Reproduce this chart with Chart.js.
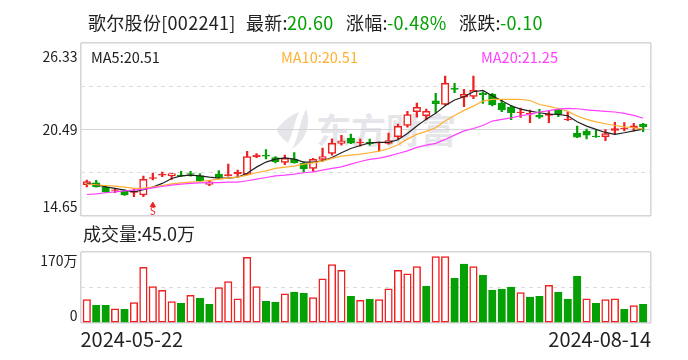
<!DOCTYPE html>
<html lang="zh">

<head>
  <meta charset="UTF-8">
  <title>歌尔股份</title>
  <script src="https://cdn.jsdelivr.net/npm/chart.js"></script>
  <style>
    body { margin: 0; background: #fff; width: 688px; height: 360px; overflow: hidden; font-family: "Noto Sans CJK SC", sans-serif; color: #222; }
    canvas { position: absolute; left: 0; top: 0; }
    span { position: absolute; white-space: nowrap; line-height: 20px; }
    .head { top: 12px; font-size: 18px; letter-spacing: 0.3px; }
    .ma { top: 47px; font-size: 14.5px; }
    .verde { color: #04a004; }
    #marca { top: 108px; left: 316px; font-size: 35px; font-weight: 700; color: #e6e6ea; line-height: 42px; letter-spacing: 0px; }
    #folha { position: absolute; left: 275px; top: 109px; }
  </style>
</head>

<body>
  <svg id="folha" width="40" height="42" viewBox="0 0 40 42">
    <path d="M31 0 C36 12 33 30 17 40 C24 28 24 14 31 0 Z M24 3 C19 14 18 24 13 34 C8 30 3 26 2 20 C8 12 16 6 24 3 Z" fill="#e6e6ea" />
  </svg>
  <span id="marca">东方财富</span>
  <canvas id="graficoPreco" width="688" height="360"></canvas>
  <canvas id="graficoVolume" width="688" height="360"></canvas>

  <span class="head" style="left:88px">歌尔股份[002241]</span>
  <span class="head" style="left:246px">最新:</span>
  <span class="head verde" style="left:287px">20.60</span>
  <span class="head" style="left:346px">涨幅:</span>
  <span class="head verde" style="left:387px">-0.48%</span>
  <span class="head" style="left:459px">涨跌:</span>
  <span class="head verde" style="left:500px">-0.10</span>
  <span class="ma" style="left:91px">MA5:20.51</span>
  <span class="ma" style="left:281px;color:#ffb030">MA10:20.51</span>
  <span class="ma" style="left:481px;color:#ff40ff">MA20:21.25</span>
  <span style="left:83px;top:223px;font-size:18px">成交量:45.0万</span>

<script>
  const precoTicks = [14.65, 17.57, 20.49, 23.41, 26.33];
  const precoLabels = ['14.65', '', '20.49', '', '26.33'];
  const volumeTicks = [0, 85, 170];
  const volumeLabels = ['0', '', '170万'];
  const datas = ['2024-05-22', '2024-08-14'];

  const abertura = [16.76, 16.89, 16.60, 16.37, 16.37, 16.24, 16.08, 17.18, 17.41, 17.36,
    17.41, 17.52, 17.36, 16.78, 17.48, 17.36, 17.50, 17.45, 18.65, 18.74,
    18.60, 18.27, 18.49, 18.20, 17.86, 18.47, 18.87, 19.55, 19.91, 19.59,
    19.62, 19.59, 19.55, 20.00, 20.76, 21.69, 21.42, 22.43, 22.18, 23.29,
    22.68, 22.72, 22.95, 22.86, 22.25, 22.00, 21.62, 21.53, 21.46, 21.44,
    21.85, 21.15, 20.25, 20.38, 20.04, 20.00, 20.43, 20.54, 20.61, 20.85];
  const fechamento = [16.98, 16.62, 16.26, 16.42, 16.08, 16.33, 17.12, 17.25, 17.48, 17.52,
    17.34, 17.45, 17.03, 16.96, 17.25, 17.45, 17.61, 18.67, 18.76, 18.69,
    18.31, 18.54, 18.24, 17.84, 18.47, 18.67, 19.55, 19.73, 19.57, 19.64,
    19.53, 19.64, 19.75, 20.70, 21.49, 21.98, 21.71, 22.23, 23.60, 23.20,
    22.86, 23.13, 22.84, 22.16, 21.82, 21.62, 21.67, 21.58, 21.33, 21.55,
    21.53, 21.19, 19.98, 20.11, 20.00, 20.22, 20.56, 20.58, 20.74, 20.68];
  const maximo = [17.07, 17.05, 16.69, 16.51, 16.42, 16.46, 17.34, 17.54, 17.61, 17.52,
    17.66, 17.66, 17.52, 17.03, 17.72, 18.15, 17.75, 19.01, 18.87, 19.14,
    18.67, 18.76, 18.94, 18.29, 18.54, 19.23, 19.86, 20.09, 20.18, 19.84,
    19.84, 19.64, 20.25, 20.86, 21.71, 22.27, 21.87, 22.93, 24.10, 23.60,
    23.20, 24.10, 23.04, 22.93, 22.48, 22.12, 21.94, 21.80, 21.85, 21.73,
    21.91, 21.69, 20.72, 20.52, 20.45, 20.49, 20.97, 20.95, 20.90, 20.90];
  const minimo = [16.62, 16.60, 16.22, 16.22, 16.04, 15.95, 15.95, 17.09, 17.30, 17.12,
    17.30, 17.34, 16.98, 16.69, 17.18, 17.34, 17.34, 17.43, 18.58, 18.51,
    18.24, 18.11, 18.22, 17.61, 17.66, 18.31, 18.76, 19.44, 19.53, 19.37,
    19.44, 19.05, 19.50, 19.82, 20.65, 21.33, 21.13, 21.62, 22.14, 22.97,
    22.03, 22.57, 22.25, 22.09, 21.69, 21.15, 21.31, 20.95, 21.24, 20.95,
    21.35, 21.08, 19.93, 19.86, 19.95, 19.73, 20.16, 20.40, 20.40, 20.34];

  const ma5 = [16.85, 16.76, 16.62, 16.51, 16.40, 16.28, 16.42, 16.60, 16.85, 17.18,
    17.36, 17.41, 17.36, 17.27, 17.21, 17.21, 17.27, 17.54, 17.95, 18.29,
    18.49, 18.58, 18.49, 18.29, 18.29, 18.38, 18.60, 18.92, 19.21, 19.41,
    19.59, 19.62, 19.62, 19.80, 20.22, 20.72, 21.19, 21.58, 22.09, 22.48,
    22.70, 23.04, 23.13, 22.77, 22.43, 22.09, 21.87, 21.73, 21.62, 21.53,
    21.51, 21.42, 21.01, 20.72, 20.50, 20.29, 20.16, 20.27, 20.40, 20.51];
  const ma10 = [16.80, 16.76, 16.71, 16.67, 16.60, 16.51, 16.53, 16.60, 16.71, 16.82,
    16.89, 16.94, 16.98, 17.05, 17.14, 17.21, 17.27, 17.41, 17.57, 17.70,
    17.86, 17.95, 18.02, 18.15, 18.24, 18.36, 18.54, 18.69, 18.76, 18.83,
    18.92, 19.03, 19.19, 19.46, 19.84, 20.16, 20.36, 20.61, 21.06, 21.44,
    21.78, 22.07, 22.41, 22.52, 22.52, 22.52, 22.52, 22.45, 22.18, 22.05,
    21.91, 21.73, 21.40, 21.17, 21.01, 20.88, 20.76, 20.67, 20.61, 20.51];
  const ma20 = [16.10, 16.15, 16.22, 16.28, 16.35, 16.40, 16.46, 16.55, 16.64, 16.73,
    16.80, 16.85, 16.89, 16.91, 16.91, 16.94, 16.94, 17.03, 17.14, 17.25,
    17.36, 17.41, 17.48, 17.57, 17.63, 17.75, 17.86, 17.97, 18.15, 18.33,
    18.47, 18.56, 18.69, 18.87, 19.05, 19.28, 19.44, 19.55, 19.82, 20.11,
    20.40, 20.56, 20.76, 21.06, 21.17, 21.28, 21.42, 21.51, 21.67, 21.76,
    21.87, 21.91, 21.89, 21.82, 21.76, 21.71, 21.67, 21.58, 21.44, 21.25];

  const volumes = [56, 42.5, 42.5, 34, 33, 49, 133, 87, 78, 51,
    47, 66, 59, 45, 85, 99, 58, 157, 87, 52,
    50, 70, 74, 71, 61, 106, 140, 126, 64, 54,
    57, 56, 82, 126, 118, 135, 88, 159, 159, 107,
    141, 135, 114, 78, 81, 86, 73, 62, 64, 90,
    74, 57, 112, 58, 47, 56, 58, 33, 42, 45];
  // 1 = vermelho, 0 = verde
  const volumeSobe = [1, 0, 0, 1, 0, 1, 1, 1, 1, 1,
    0, 1, 0, 0, 1, 1, 1, 1, 1, 0,
    0, 1, 0, 0, 1, 1, 1, 1, 0, 1,
    0, 1, 1, 1, 1, 1, 0, 1, 1, 0,
    0, 1, 0, 0, 0, 0, 1, 0, 0, 1,
    0, 0, 0, 1, 0, 1, 1, 0, 1, 0];

  const sinalIndice = 7;
  const sinalSeta = 15.38;
  const sinalTexto = 15.0;

  const VERMELHO = '#f02020';
  const VERDE = '#04a004';
  const FONTE = '"Noto Sans CJK SC", sans-serif';
  const xMin = -0.668;
  const xMax = 59.83;

  // desloca os rotulos das pontas para dentro do grafico
  function deslocarRotulos(deslocamentos) {
    let feito = false;
    return {
      id: 'deslocarRotulos',
      beforeDraw(chart) {
        if (feito) return;
        feito = true;
        const itens = chart.scales.y.getLabelItems(chart.chartArea);
        itens.forEach((item, i) => {
          if (deslocamentos[i]) item.options.translation[1] += deslocamentos[i];
        });
      }
    };
  }

  const sinalPlugin = {
    id: 'sinal',
    afterDatasetsDraw(chart) {
      const x = chart.scales.x.getPixelForValue(sinalIndice);
      const y = chart.scales.y.getPixelForValue(sinalTexto);
      const ctx = chart.ctx;
      ctx.save();
      ctx.fillStyle = VERMELHO;
      ctx.font = '10px ' + FONTE;
      ctx.textAlign = 'center';
      ctx.textBaseline = 'middle';
      ctx.fillText('S', x, y);
      ctx.restore();
    }
  };

  function eixoX(mostrarDatas) {
    return {
      type: 'linear',
      offset: false,
      min: xMin,
      max: xMax,
      afterBuildTicks: (scale) => { scale.ticks = [{ value: xMin }, { value: xMax }]; },
      grid: { color: '#d4d4da', drawTicks: false, lineWidth: 1.5, offset: false },
      border: { display: false },
      afterFit: mostrarDatas ? (scale) => { scale.height = 37; } : undefined,
      ticks: {
        display: mostrarDatas,
        align: 'inner',
        maxRotation: 0,
        padding: 4,
        color: '#222',
        font: { family: FONTE, size: 20 },
        callback: (v, i) => datas[i]
      }
    };
  }

  function eixoY(min, max, valores, rotulos) {
    return {
      min: min,
      max: max,
      afterBuildTicks: (scale) => { scale.ticks = valores.map((v) => ({ value: v })); },
      afterFit: (scale) => { scale.width = 80.5; },
      grid: {
        drawTicks: false,
        color: (ctx) => (ctx.index % 2 === 0 && valores.length === 5) || (valores.length === 3 && ctx.index !== 1) ? '#d4d4da' : '#dddddd',
        lineWidth: (ctx) => (ctx.index === 0 || ctx.index === valores.length - 1) ? 1.5 : 1
      },
      border: {
        display: false,
        dash: (ctx) => (valores.length === 5 ? ctx.index % 2 === 1 : ctx.index === 1) ? [4, 4] : []
      },
      ticks: {
        padding: 3,
        color: '#222',
        font: { family: FONTE, size: 14 },
        callback: (v, i) => rotulos[i]
      }
    };
  }

  const linha = (nome, valores, cor) => ({
    type: 'line',
    label: nome,
    data: valores.map((v, i) => ({ x: i, y: v })),
    borderColor: cor,
    borderWidth: 1.2,
    pointRadius: 0,
    tension: 0,
    order: 1
  });

  const corVela = abertura.map((a, i) => fechamento[i] >= a ? VERMELHO : VERDE);
  // corpo muito baixo vira traco cheio, como no original
  const corCorpo = abertura.map((a, i) => (fechamento[i] >= a && fechamento[i] - a > 0.15) ? '#ffffff' : corVela[i]);

  new Chart(document.getElementById('graficoPreco'), {
    type: 'bar',
    data: {
      datasets: [
        linha('MA20', ma20, '#ff40ff'),
        linha('MA10', ma10, '#ffb030'),
        linha('MA5', ma5, '#222222'),
        {
          label: 'Sinal',
          type: 'line',
          data: [{ x: sinalIndice, y: sinalSeta }],
          pointStyle: 'triangle',
          pointRadius: 3,
          backgroundColor: VERMELHO,
          borderColor: VERMELHO,
          showLine: false,
          order: 1
        },
        {
          label: 'Corpo',
          data: abertura.map((a, i) => ({ x: i, y: [a, fechamento[i]] })),
          backgroundColor: corCorpo,
          borderColor: corVela,
          borderWidth: 1.5,
          borderSkipped: false,
          barThickness: 7.5,
          grouped: false,
          order: 2
        },
        {
          label: 'Pavio',
          data: maximo.map((h, i) => ({ x: i, y: [minimo[i], h] })),
          backgroundColor: corVela,
          borderWidth: 0,
          barThickness: 1.6,
          grouped: false,
          order: 3
        }
      ]
    },
    options: {
      responsive: false,
      animation: false,
      layout: { padding: { top: 43, bottom: 144, right: 37, left: 0 } },
      plugins: { legend: { display: false }, tooltip: { enabled: false } },
      scales: { x: eixoX(false), y: eixoY(14.65, 26.33, precoTicks, precoLabels) }
    },
    plugins: [deslocarRotulos({ 0: -9.5, 4: 14 }), sinalPlugin]
  });

  new Chart(document.getElementById('graficoVolume'), {
    type: 'bar',
    data: {
      datasets: [{
        label: '成交量',
        data: volumes.map((v, i) => ({ x: i, y: v })),
        backgroundColor: volumeSobe.map((s) => s ? '#ffffff' : VERDE),
        borderColor: volumeSobe.map((s) => s ? VERMELHO : VERDE),
        borderWidth: 1.5,
        borderSkipped: false,
        barThickness: 7.5
      }]
    },
    options: {
      responsive: false,
      animation: false,
      layout: { padding: { top: 252, bottom: 0, right: 37, left: 0 } },
      plugins: { legend: { display: false }, tooltip: { enabled: false } },
      scales: { x: eixoX(true), y: eixoY(0, 170, volumeTicks, volumeLabels) }
    },
    plugins: [deslocarRotulos({ 0: -7, 2: 9 })]
  });
</script>
</body>

</html>
